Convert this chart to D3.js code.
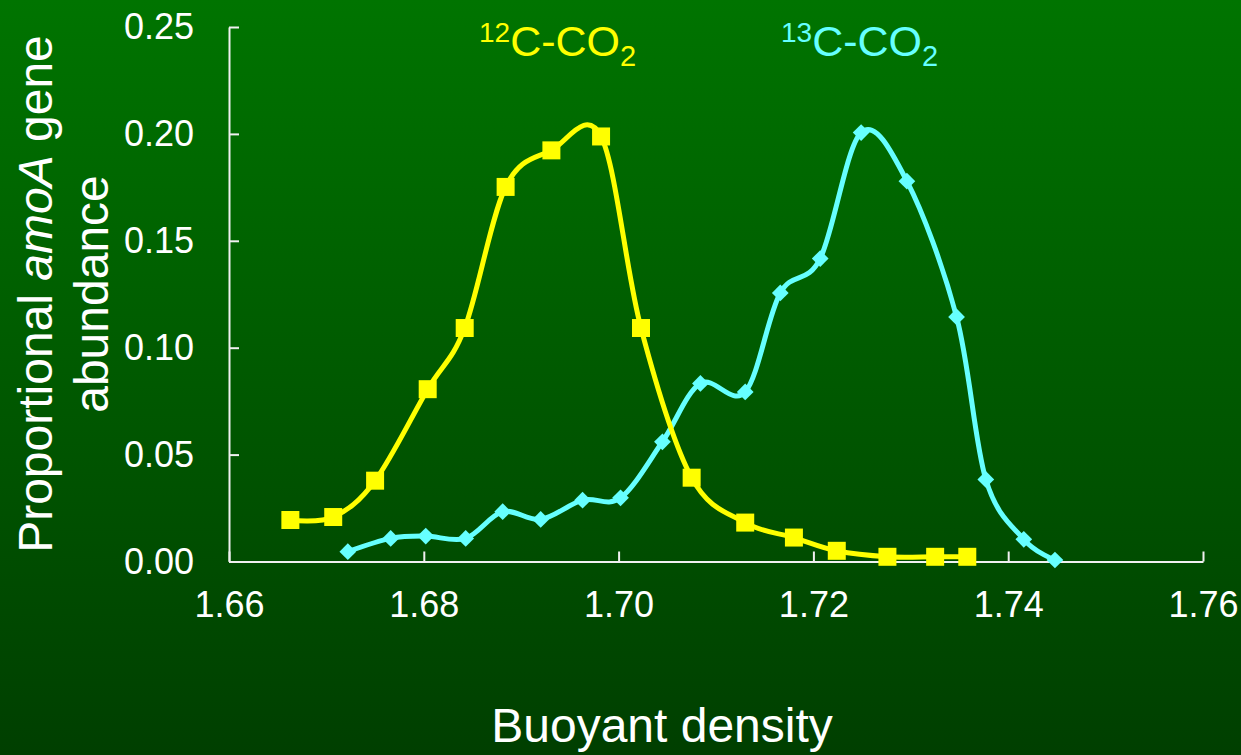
<!DOCTYPE html>
<html>
<head>
<meta charset="utf-8">
<script src="https://cdn.jsdelivr.net/npm/d3@7"></script>
<style>
  body { margin: 0; }
  text { font-family: Arial, "Liberation Sans", sans-serif; }
</style>
</head>
<body>
<svg id="chart" width="1241" height="755"></svg>
<script>
// 12C-CO2 series (yellow squares)
const c12Density = [1.6663, 1.6707, 1.6750, 1.6804, 1.6842, 1.6884, 1.6931, 1.6982,
  1.7023, 1.7075, 1.7130, 1.7180, 1.7224, 1.7276, 1.7325, 1.7358];
const c12Abundance = [0.0194, 0.0208, 0.0378, 0.0806, 0.1092, 0.1752, 0.1923, 0.1988,
  0.1092, 0.0392, 0.0182, 0.0112, 0.0050, 0.0022, 0.0022, 0.0022];

// 13C-CO2 series (cyan diamonds)
const c13Density = [1.6722, 1.6766, 1.6802, 1.6843, 1.6881, 1.6920, 1.6963, 1.7002,
  1.7045, 1.7084, 1.7130, 1.7166, 1.7207, 1.7249, 1.7296, 1.7347, 1.7377, 1.7416, 1.7448];
const c13Abundance = [0.0046, 0.0108, 0.0119, 0.0108, 0.0233, 0.0197, 0.0287, 0.0298,
  0.0560, 0.0833, 0.0793, 0.1256, 0.1417, 0.2006, 0.1779, 0.1144, 0.0384, 0.0104, 0.0007];

const xTicks = [1.66, 1.68, 1.70, 1.72, 1.74, 1.76];
const yTicks = [0, 0.05, 0.10, 0.15, 0.20, 0.25];

const width = 1241, height = 755;
const svg = d3.select("#chart");

// background gradient
const defs = svg.append("defs");
const grad = defs.append("linearGradient")
  .attr("id", "bg").attr("x1", 0).attr("y1", 0).attr("x2", 0).attr("y2", 1);
grad.append("stop").attr("offset", "0%").attr("stop-color", "#007400");
grad.append("stop").attr("offset", "100%").attr("stop-color", "#003f00");
svg.append("rect").attr("width", width).attr("height", height).attr("fill", "url(#bg)");

const x = d3.scaleLinear().domain([1.66, 1.76]).range([229, 1203]);
const y = d3.scaleLinear().domain([0, 0.25]).range([561.5, 27]);

// axes
const xAxis = svg.append("g")
  .attr("transform", `translate(0,${y(0)})`)
  .call(d3.axisBottom(x).tickValues(xTicks).tickFormat(d3.format(".2f"))
    .tickSizeInner(-10).tickSizeOuter(0).tickPadding(30));
const yAxis = svg.append("g")
  .attr("transform", `translate(${x(1.66)},0)`)
  .call(d3.axisLeft(y).tickValues(yTicks).tickFormat(d3.format(".2f"))
    .tickSizeInner(-10).tickSizeOuter(0).tickPadding(35));

[xAxis, yAxis].forEach(g => {
  g.select(".domain").attr("stroke", "#f0f0f0").attr("stroke-width", 2);
  g.selectAll(".tick line").attr("stroke", "#f0f0f0").attr("stroke-width", 2);
  g.selectAll(".tick text").attr("fill", "#ffffff").style("font-size", "36px")
    .style("font-family", "Arial, 'Liberation Sans', sans-serif");
});

// curves
const line = d3.line()
  .x(d => x(d[0]))
  .y(d => y(d[1]))
  .curve(d3.curveCatmullRom.alpha(0));

const c12 = c12Density.map((d, i) => [d, c12Abundance[i]]);
const c13 = c13Density.map((d, i) => [d, c13Abundance[i]]);

svg.append("path").attr("d", line(c13))
  .attr("fill", "none").attr("stroke", "#66ffff").attr("stroke-width", 5);
svg.append("path").attr("d", line(c12))
  .attr("fill", "none").attr("stroke", "#ffff00").attr("stroke-width", 5);

svg.selectAll(".diamond").data(c13).enter().append("path")
  .attr("class", "diamond")
  .attr("d", d3.symbol(d3.symbolSquare, 140)())
  .attr("transform", d => `translate(${x(d[0])},${y(d[1])}) rotate(45)`)
  .attr("fill", "#66ffff");

svg.selectAll(".square").data(c12).enter().append("path")
  .attr("class", "square")
  .attr("d", d3.symbol(d3.symbolSquare, 18 * 18)())
  .attr("transform", d => `translate(${x(d[0])},${y(d[1])})`)
  .attr("fill", "#ffff00");

// series labels
function seriesLabel(xPos, mass, color) {
  const t = svg.append("text").attr("x", xPos).attr("y", 56).attr("fill", color)
    .style("font-size", "43px");
  t.append("tspan").style("font-size", "28px").attr("dy", -14).text(mass);
  t.append("tspan").attr("dy", 14).text("C-CO");
  t.append("tspan").style("font-size", "29px").attr("dy", 10).text("2");
}
seriesLabel(479, "12", "#ffff00");
seriesLabel(781, "13", "#66ffff");

// axis titles
svg.append("text")
  .attr("x", 662).attr("y", 742)
  .attr("text-anchor", "middle").attr("fill", "#ffffff")
  .style("font-size", "48px")
  .text("Buoyant density");

const yt1 = svg.append("text")
  .attr("transform", "translate(52,294) rotate(-90)")
  .attr("text-anchor", "middle").attr("fill", "#ffffff")
  .style("font-size", "48px");
yt1.append("tspan").text("Proportional ");
yt1.append("tspan").style("font-style", "italic").text("amoA");
yt1.append("tspan").text(" gene");

svg.append("text")
  .attr("transform", "translate(108,294) rotate(-90)")
  .attr("text-anchor", "middle").attr("fill", "#ffffff")
  .style("font-size", "48px")
  .text("abundance");
</script>
</body>
</html>
